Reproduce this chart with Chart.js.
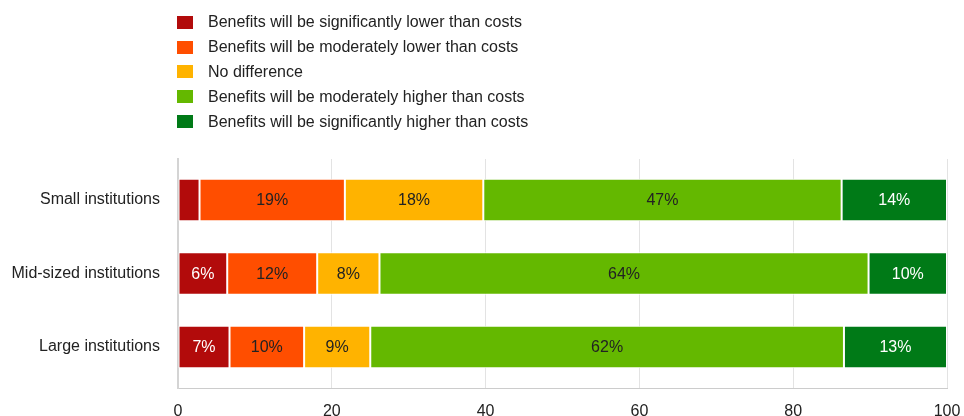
<!DOCTYPE html>
<html>
<head>
<meta charset="utf-8">
<script src="https://cdn.jsdelivr.net/npm/chart.js@4"></script>
<style>
  html, body { margin: 0; padding: 0; background: #fff; }
  #wrap { position: relative; width: 964px; height: 416px; }
  #legend { position: absolute; left: 177px; top: 10px; font-family: "Liberation Sans", Arial, sans-serif; font-size: 16px; color: #222; }
  #legend .item { height: 24.8px; display: flex; align-items: center; white-space: nowrap; }
  #legend .box { width: 16px; height: 13px; margin-right: 15px; }
</style>
</head>
<body>
<div id="wrap">
  <div id="legend"></div>
  <canvas id="myChart" width="964" height="416"></canvas>
</div>
<script>
// Kategóriák és sorozatok
const categories = ['Small institutions', 'Mid-sized institutions', 'Large institutions'];
const seriesNames = [
  'Benefits will be significantly lower than costs',
  'Benefits will be moderately lower than costs',
  'No difference',
  'Benefits will be moderately higher than costs',
  'Benefits will be significantly higher than costs'
];
const sigLower = [2.8, 6.4, 6.7];
const modLower = [18.9, 11.7, 9.7];
const noDiff = [18.0, 8.1, 8.6];
const modHigher = [46.6, 63.6, 61.6];
const sigHigher = [13.7, 10.2, 13.4];
const xTicks = [0, 20, 40, 60, 80, 100];

const colors = ['#b20b0b', '#ff4e00', '#ffb300', '#64b800', '#007a17'];
const labelColors = ['#fff', '#222', '#222', '#222', '#fff'];
const seriesValues = [sigLower, modLower, noDiff, modHigher, sigHigher];
const FONT = '"Liberation Sans", Arial, sans-serif';

// Címkék a sávok közepén
const barLabels = {
  id: 'barLabels',
  afterDatasetsDraw(chart) {
    const ctx = chart.ctx;
    ctx.save();
    ctx.font = '16px ' + FONT;
    ctx.textAlign = 'center';
    ctx.textBaseline = 'middle';
    chart.data.datasets.forEach((ds, i) => {
      chart.getDatasetMeta(i).data.forEach((bar, j) => {
        const v = seriesValues[i][j];
        if (v < 4) return;
        ctx.fillStyle = labelColors[i];
        ctx.fillText(Math.round(v) + '%', (bar.x + bar.base) / 2, bar.y + 1);
      });
    });
    ctx.restore();
  }
};

const ctx = document.getElementById('myChart').getContext('2d');
const chart = new Chart(ctx, {
  type: 'bar',
  data: {
    datasets: seriesValues.map((vals, i) => ({
      label: seriesNames[i],
      data: vals.map((v, j) => ({ x: v, y: j })),
      backgroundColor: colors[i],
      borderColor: '#ffffff',
      borderWidth: 1,
      borderSkipped: false,
      categoryPercentage: 1,
      barPercentage: 0.58
    }))
  },
  options: {
    indexAxis: 'y',
    responsive: false,
    animation: false,
    layout: { padding: { left: 0, top: 159, right: 0, bottom: 0 } },
    plugins: { legend: { display: false }, tooltip: { enabled: false } },
    scales: {
      x: {
        type: 'linear',
        stacked: true,
        min: 0,
        max: 100,
        afterBuildTicks(scale) { scale.ticks = xTicks.map(v => ({ value: v })); },
        afterFit(scale) { scale.height = 28; scale.paddingRight = 17; scale.paddingLeft = 0; },
        grid: { color: '#e3e3e3', lineWidth: 1, drawTicks: false },
        border: { display: true, color: '#cccccc', width: 1 },
        ticks: { font: { family: FONT, size: 16 }, color: '#222', padding: 14 }
      },
      y: {
        type: 'linear',
        stacked: true,
        reverse: true,
        offset: false,
        min: -0.558,
        max: 2.558,
        afterBuildTicks(scale) { scale.ticks = categories.map((c, j) => ({ value: j })); },
        afterFit(scale) { scale.width = 178; },
        grid: { display: false, drawTicks: false, offset: false },
        border: { display: true, color: '#d4d4d4', width: 2 },
        ticks: {
          font: { family: FONT, size: 16 }, color: '#222', padding: 18,
          callback: v => categories[v]
        }
      }
    }
  },
  plugins: [barLabels]
});

// HTML jelmagyarázat
const legend = document.getElementById('legend');
seriesNames.forEach((name, i) => {
  const item = document.createElement('div');
  item.className = 'item';
  item.innerHTML = '<span class="box" style="background:' + colors[i] + '"></span><span>' + name + '</span>';
  legend.appendChild(item);
});
</script>
</body>
</html>
